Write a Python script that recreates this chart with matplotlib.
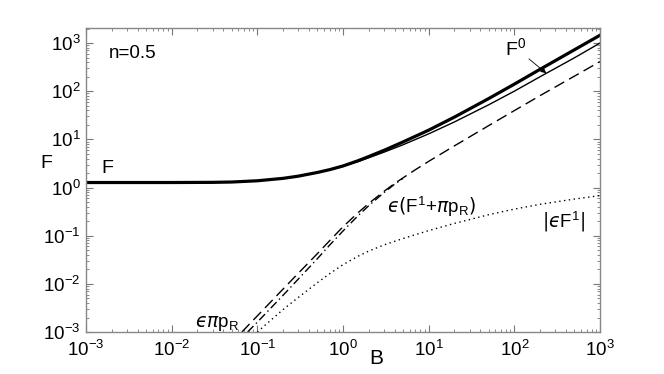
"""F versus B on log-log axes, n=0.5"""
import matplotlib
matplotlib.use("Agg")
import matplotlib.pyplot as plt
from matplotlib.ticker import LogLocator, FixedLocator, FixedFormatter, NullFormatter

plt.rcParams['font.family'] = ['Liberation Sans', 'DejaVu Sans']
plt.rcParams['mathtext.fontset'] = 'dejavusans'

# values
B_full = [0.001, 0.01, 0.03, 0.05, 0.1, 0.2, 0.3, 0.5, 0.7, 1, 1.5, 2, 3, 5,
          10, 20, 50, 100, 200, 500, 1000]
F_total = [1.27, 1.27, 1.28, 1.30, 1.38, 1.55, 1.72, 2.05, 2.35, 2.8, 3.6, 4.4,
           5.9, 8.8, 15.5, 29, 70, 140, 285, 720, 1450]
F_zero = [1.27, 1.27, 1.28, 1.30, 1.38, 1.55, 1.72, 2.04, 2.33, 2.75, 3.45, 4.15,
          5.4, 7.7, 13, 23, 52, 100, 200, 490, 1000]

B_sum = [0.066, 0.1, 0.2, 0.3, 0.5, 0.7, 1, 1.5, 2, 3, 4, 5, 7, 10, 20, 50,
         100, 200, 500, 1000]
F_sum = [0.001, 0.00216, 0.0078, 0.0165, 0.042, 0.079, 0.153, 0.30, 0.467, 0.83,
         1.21, 1.58, 2.34, 3.49, 7.33, 19.2, 39.5, 81, 204, 412]

B_press = [0.077, 0.1, 0.2, 0.3, 0.5, 0.7, 1, 1.5, 2, 3, 4, 5]
F_press = [0.001, 0.0016, 0.0058, 0.0125, 0.033, 0.064, 0.125, 0.26, 0.42, 0.78,
           1.17, 1.54]

B_first = [0.1, 0.15, 0.2, 0.3, 0.5, 0.7, 1, 1.5, 2, 3, 5, 10, 20, 50, 100, 200,
           500, 1000]
F_first = [0.001, 0.00188, 0.00293, 0.0052, 0.0105, 0.0163, 0.025, 0.0375, 0.0479,
           0.0641, 0.0871, 0.1275, 0.180, 0.272, 0.356, 0.448, 0.575, 0.68]

decades = [-3, -2, -1, 0, 1, 2, 3]
tick_vals = [10.0 ** k for k in decades]
tick_labels = [r'$\mathregular{10^{%d}}$' % k for k in decades]

fig = plt.figure(figsize=(6.64, 3.74), dpi=100)
ax = fig.add_axes([0.1295, 0.1123, 0.7741, 0.8128])

ax.plot(B_full, F_total, color='black', lw=2.3)
ax.plot(B_full, F_zero, color='black', lw=1.0)
ax.plot(B_sum, F_sum, color='black', lw=1.0, dashes=(8, 4))
ax.plot(B_press, F_press, color='black', lw=1.0, dashes=(6, 2.5, 1, 2.5))
ax.plot(B_first, F_first, color='black', lw=1.0, dashes=(1, 2.5))

ax.set_xscale('log')
ax.set_yscale('log')
ax.set_xlim(1e-3, 1e3)
ax.set_ylim(1e-3, 2050)

for axis in (ax.xaxis, ax.yaxis):
    axis.set_major_locator(FixedLocator(tick_vals))
    axis.set_major_formatter(FixedFormatter(tick_labels))
    axis.set_minor_locator(LogLocator(base=10, subs=range(2, 10), numticks=20))
    axis.set_minor_formatter(NullFormatter())

ax.tick_params(which='both', direction='in', top=True, right=True, color='#777777',
               labelsize=13.5)
ax.tick_params(which='major', length=5, width=0.8)
ax.tick_params(which='minor', length=2.5, width=0.6)
ax.tick_params(axis='x', pad=6)
ax.tick_params(axis='y', pad=4)
for s in ax.spines.values():
    s.set_color('#888888')
    s.set_linewidth(1.0)

fig.text(46 / 664, 1 - 163 / 374, 'F', fontsize=14, ha='center', va='center')
fig.text(376 / 664, 1 - 358 / 374, 'B', fontsize=15, ha='center', va='center')

eps = '\u03f5'
ax.text(0.045, 0.915, 'n=0.5', transform=ax.transAxes, fontsize=13.5, ha='left', va='center')
ax.text(0.00176, 1.65, 'F', fontsize=14, ha='center', va='bottom')
ax.annotate(r'$\mathregular{F^0}$', xy=(236, 236), xytext=(78, 470), fontsize=14,
            ha='left', va='bottom',
            arrowprops=dict(arrowstyle='-|>', color='black', lw=0.6,
                            mutation_scale=8, shrinkA=0, shrinkB=0))
ax.text(3.3, 0.40, '$' + eps + r'(\mathregular{F^1{+}}\pi\mathregular{p_R})$',
        fontsize=13.5, ha='left', va='center')
ax.text(212, 0.196, '$|' + eps + r'\mathregular{F^1}|$', fontsize=13.5, ha='left',
        va='center')
ax.text(0.0187, 0.0015, '$' + eps + r'\pi\mathregular{p_R}$', fontsize=13.5, ha='left',
        va='center')

fig.savefig('out.png', dpi=100)
plt.close()
